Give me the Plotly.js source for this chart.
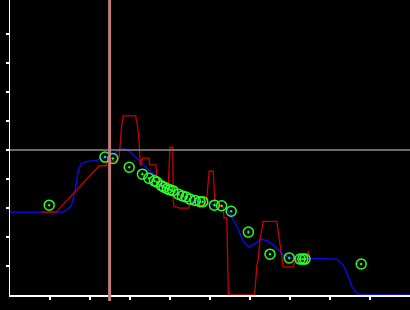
<!DOCTYPE html>
<html>
<head>
<meta charset="utf-8">
<script src="https://cdn.plot.ly/plotly-3.0.1.min.js"></script>
<style>html,body{margin:0;padding:0;background:#000;}#chart{width:410px;height:310px;}</style>
</head>
<body>
<div id="chart"></div>
<script>
// Blue smooth series
const blueX = [0, 1.33, 1.42, 1.54, 1.63, 1.71, 1.79, 1.92, 2.13, 2.33, 2.38, 2.63, 2.75, 2.88, 3.0, 3.13, 3.29, 3.46, 3.67, 3.75, 4.08, 4.42, 4.67, 5.0, 5.42, 5.54, 5.71, 5.83, 5.96, 6.08, 6.29, 6.46, 6.67, 6.83, 7.0, 8.17, 8.33, 8.46, 8.54, 8.67, 8.75, 10];
const blueY = [2.86, 2.86, 2.94, 3.11, 3.63, 4.32, 4.53, 4.61, 4.64, 4.73, 4.74, 4.90, 5.03, 5.03, 4.95, 4.78, 4.55, 4.32, 4.09, 3.90, 3.56, 3.32, 3.19, 3.15, 3.0, 2.71, 2.25, 1.85, 1.66, 1.73, 1.93, 1.85, 1.62, 1.39, 1.28, 1.24, 1.04, 0.64, 0.30, 0.07, 0.01, 0];

// Red stepped series
const redX = [0.79, 1.15, 2.23, 2.4, 2.43, 2.65, 2.73, 2.75, 2.79, 2.83, 3.14, 3.19, 3.23, 3.26, 3.32, 3.48, 3.49, 3.65, 3.67, 3.71, 3.96, 4.0, 4.07, 4.08, 4.1, 4.25, 4.46, 4.5, 4.88, 4.92, 4.96, 4.98, 5.08, 5.1, 5.13, 5.33, 5.35, 5.42, 5.44, 5.46, 6.11, 6.13, 6.17, 6.21, 6.25, 6.31, 6.33, 6.67, 6.71, 6.78, 6.82, 6.83, 7.08, 7.11, 7.17, 7.42, 7.45, 7.47, 7.49];
const redY = [2.86, 2.86, 4.46, 4.46, 4.61, 4.63, 4.77, 5.25, 5.81, 6.18, 6.18, 5.81, 5.24, 4.46, 4.72, 4.72, 4.49, 4.49, 4.09, 3.91, 3.86, 5.1, 5.1, 3.29, 3.06, 3.0, 3.0, 3.11, 3.11, 3.36, 3.98, 4.27, 4.27, 3.7, 3.08, 3.04, 2.66, 2.66, 1.33, 0, 0, 0.24, 0.99, 1.28, 1.91, 2.37, 2.54, 2.54, 2.14, 1.56, 1.04, 0.97, 0.97, 1.10, 1.22, 1.23, 1.49, 1.49, 1.22];

// Green observation points
const ptX = [0.98, 2.375, 2.57, 2.98, 3.31, 3.47, 3.61, 3.67, 3.79, 3.85, 3.93, 4.0, 4.07, 4.21, 4.31, 4.4, 4.5, 4.63, 4.75, 4.82, 5.11, 5.29, 5.53, 5.96, 6.5, 6.98, 7.25, 7.32, 7.375, 8.78];
const ptY = [3.10, 4.76, 4.71, 4.41, 4.17, 4.03, 3.94, 3.90, 3.77, 3.72, 3.67, 3.63, 3.60, 3.48, 3.42, 3.38, 3.31, 3.26, 3.22, 3.22, 3.10, 3.08, 2.89, 2.17, 1.41, 1.28, 1.24, 1.24, 1.24, 1.07];

// Reference lines and ticks
const vLineX = 2.49;
const hLineY = 5;
const xTicks = [1, 2, 3, 4, 5, 6, 7, 8, 9];
const yTicks = [1, 2, 3, 4, 5, 6, 7, 8, 9];

const traces = [
  {x: blueX, y: blueY, type: 'scatter', mode: 'lines', line: {color: 'rgb(10,10,255)', width: 1.3}, hoverinfo: 'skip'},
  {x: redX, y: redY, type: 'scatter', mode: 'lines', line: {color: 'rgb(200,0,0)', width: 1.3}, hoverinfo: 'skip'},
  {x: ptX, y: ptY, type: 'scatter', mode: 'markers', marker: {symbol: 'circle-open-dot', size: 10, color: 'rgb(40,255,40)', line: {width: 1.5, color: 'rgb(40,255,40)'}}, hoverinfo: 'skip'}
];

const axisBase = {showgrid: false, zeroline: false, showline: true, linecolor: '#ffffff', linewidth: 1.5,
  ticks: 'outside', ticklen: 3, tickwidth: 1.5, tickcolor: '#ffffff', showticklabels: false, tickmode: 'array', fixedrange: true};

const layout = {
  width: 410, height: 310,
  margin: {l: 10, r: 0, t: 0, b: 15, pad: 0},
  paper_bgcolor: '#000000', plot_bgcolor: '#000000',
  showlegend: false,
  xaxis: Object.assign({}, axisBase, {range: [0, 10], tickvals: xTicks}),
  yaxis: Object.assign({}, axisBase, {range: [0, 10.18], tickvals: yTicks}),
  shapes: [
    {type: 'line', xref: 'paper', yref: 'y', x0: 0, x1: 1, y0: hLineY, y1: hLineY, line: {color: 'rgb(140,140,140)', width: 1.5}, layer: 'above'},
    {type: 'line', xref: 'x', yref: 'paper', x0: vLineX, x1: vLineX, y0: -0.02, y1: 1, line: {color: 'rgb(190,125,125)', width: 3}, layer: 'above'}
  ]
};

Plotly.newPlot('chart', traces, layout, {staticPlot: true, displayModeBar: false});
</script>
</body>
</html>
